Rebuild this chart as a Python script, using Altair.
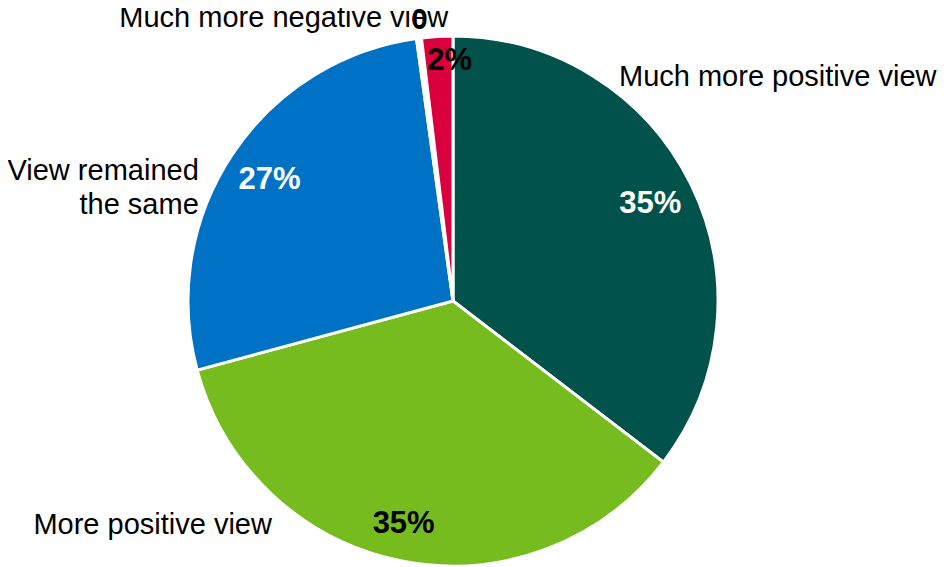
import altair as alt
import pandas as pd

categories = ["Much more positive view", "More positive view", "View remained the same",
              "More negative view", "Much more negative view"]
values = [35.4, 35.4, 27.0, 0.3, 1.9]
pct_labels = ["35%", "35%", "27%", "0", "2%"]
display_names = ["Much more positive view", "More positive view", "View remained\nthe same",
                 "", "Much more negative view"]
slice_order = [1, 2, 3, 4, 5]
colors = ["#00524B", "#77BC1F", "#0072C6", "#FFFFFF", "#D9003D"]

df = pd.DataFrame({"category": categories, "value": values, "pct": pct_labels,
                   "name": display_names, "order": slice_order})

CX, CY = 445, 293
FONT = "Liberation Sans"
TAU = 6.283185307179586

# cumulative angles computed from the data
base = alt.Chart(df).transform_window(
    cum="sum(value)", sort=[alt.SortField("order")], frame=[None, 0]
).transform_joinaggregate(
    total="sum(value)"
).transform_calculate(
    start="(datum.cum - datum.value) / datum.total",
    end="datum.cum / datum.total",
    mid="(datum.cum - datum.value / 2) / datum.total",
).encode(
    x=alt.value(CX),
    y=alt.value(CY),
)

theta_scale = alt.Scale(domain=[0, 1], range=[0, TAU])

arc = base.mark_arc(radius=265, stroke="white", strokeWidth=3).encode(
    theta=alt.Theta("start:Q", stack=None, scale=theta_scale),
    theta2="end:Q",
    color=alt.Color("category:N", scale=alt.Scale(domain=categories, range=colors), legend=None),
)

lbase = base.encode(
    theta=alt.Theta("mid:Q", stack=None, scale=theta_scale),
)

pct_white = lbase.mark_text(radius=220, font=FONT, fontSize=31, fontWeight="bold",
                            baseline="middle", align="center", color="white").encode(
    text="pct:N",
).transform_filter(
    alt.FieldOneOfPredicate(field="category", oneOf=["Much more positive view", "View remained the same"])
)

pct_lime = lbase.mark_text(radius=224, dx=-6, dy=3, font=FONT, fontSize=31, fontWeight="bold",
                           baseline="middle", align="center", color="black").encode(
    text="pct:N"
).transform_filter(alt.datum.category == "More positive view")

pct_red = lbase.mark_text(radius=240, dx=11, font=FONT, fontSize=31, fontWeight="bold",
                          baseline="middle", align="center", color="black").encode(
    text="pct:N"
).transform_filter(alt.datum.category == "Much more negative view")

pct_zero = lbase.mark_text(radius=283, dx=3, font=FONT, fontSize=29, fontWeight="bold",
                           baseline="middle", align="center", color="black").encode(
    text="pct:N"
).transform_filter(alt.datum.category == "More negative view")


def cat_label(cat, dx, dy, align):
    return lbase.mark_text(radius=300, dx=dx, dy=dy, align=align, baseline="alphabetic",
                           font=FONT, fontSize=29, color="black", lineBreak="\n",
                           lineHeight=34).encode(
        text="name:N"
    ).transform_filter(alt.datum.category == cat)


lab1 = cat_label("Much more positive view", -103, -82, "left")
lab2 = cat_label("More positive view", -123, -61, "right")
lab3 = cat_label("View remained the same", -4, 44, "right")
lab5 = cat_label("Much more negative view", 13, 25, "right")

chart = alt.layer(arc, pct_white, pct_lime, pct_red, lab1, lab2, lab3, lab5, pct_zero).properties(
    width=930, height=559, padding=0, autosize=alt.AutoSizeParams(type="none")
).configure(background="white").configure_view(stroke=None)

chart.save("out.html", embed_options={"renderer": "svg", "actions": False})
